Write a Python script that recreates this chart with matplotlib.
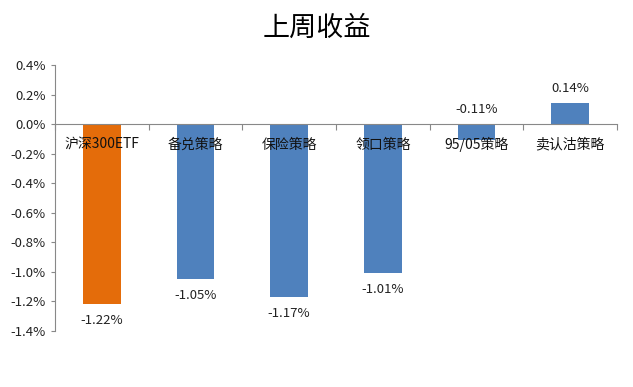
import matplotlib.pyplot as plt
import numpy as np

plt.rcParams['font.family'] = ['Noto Sans CJK SC', 'DejaVu Sans']

# data
categories = ["沪深300ETF", "备兑策略", "保险策略", "领口策略", "95/05策略", "卖认沽策略"]
returns = [-1.22, -1.05, -1.17, -1.01, -0.11, 0.14]
bar_colors = ["#E46C0A", "#4F81BD", "#4F81BD", "#4F81BD", "#4F81BD", "#4F81BD"]
yticks = [0.4, 0.2, 0.0, -0.2, -0.4, -0.6, -0.8, -1.0, -1.2, -1.4]

fig = plt.figure(figsize=(6.33, 3.87), dpi=100)
ax = fig.add_axes([55/633, 1-331/387, (617-55)/633, (331-65)/387])

x = np.arange(len(categories))
ax.bar(x, returns, width=0.4, color=bar_colors, zorder=2)

ax.set_xlim(-0.5, len(categories) - 0.5)
ax.set_ylim(-1.4, 0.4)
ax.set_yticks(yticks)
ax.set_yticklabels(["%.1f%%" % v for v in yticks], fontsize=9.5, color="#222222")

# category boundaries as ticks on the zero line
ax.set_xticks(np.arange(len(categories) + 1) - 0.5)
ax.set_xticklabels([])
ax.tick_params(axis='x', length=4, color="#888888", direction='out')
ax.tick_params(axis='y', length=3, color="#888888")

for s in ["top", "right"]:
    ax.spines[s].set_visible(False)
ax.spines["left"].set_color("#888888")
ax.spines["bottom"].set_position(("data", 0))
ax.spines["bottom"].set_color("#888888")

# category labels just below the zero line
for i, c in enumerate(categories):
    ax.text(i, -0.14, c, ha="center", va="center", fontsize=10, color="#111111", zorder=3)

# value labels
for i, v in enumerate(returns):
    if v > 0:
        ax.text(i, v + 0.1, "%.2f%%" % v, ha="center", va="center", fontsize=9.5, color="#222222")
    elif v > -0.5:
        ax.text(i, 0.1, "%.2f%%" % v, ha="center", va="center", fontsize=9.5, color="#222222")
    else:
        ax.text(i, v - 0.11, "%.2f%%" % v, ha="center", va="center", fontsize=9.5, color="#222222")

fig.text(0.5, 1-28/387, "上周收益", ha="center", va="center", fontsize=19.5, color="#000000")

fig.savefig("out.png", dpi=100)
